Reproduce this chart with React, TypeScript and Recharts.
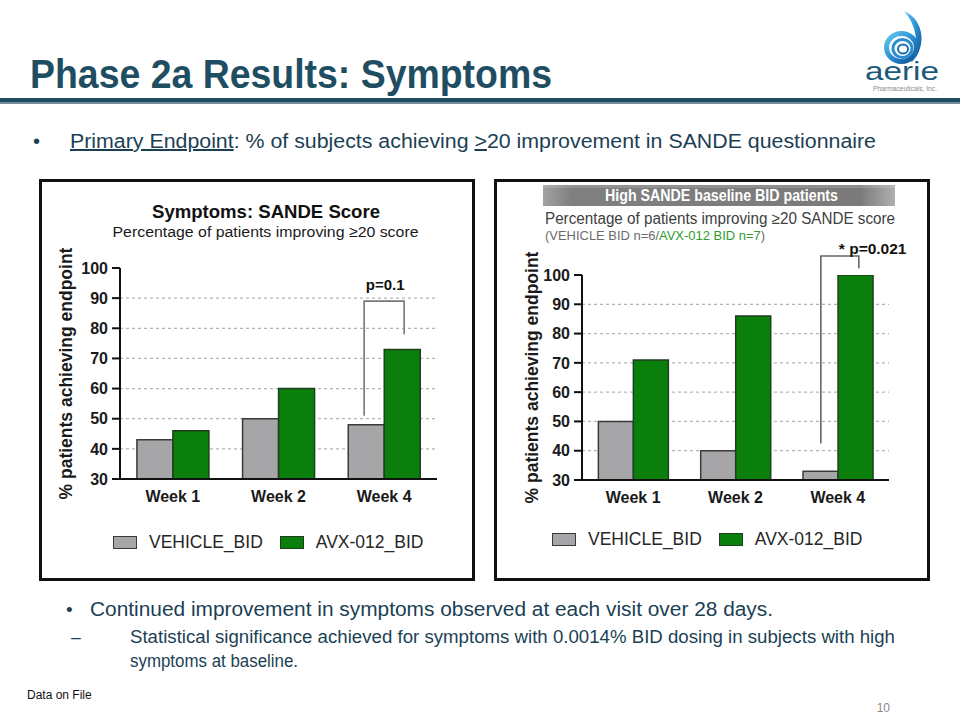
import React from 'react';
import { BarChart, Bar, XAxis, YAxis, ReferenceLine, Legend, CartesianGrid } from 'recharts';

const FONT = "'Liberation Sans', Arial, Helvetica, sans-serif";

// ---------- data ----------
const WEEKS = ['Week 1', 'Week 2', 'Week 4'];
const SERIES = ['VEHICLE_BID', 'AVX-012_BID'];
const ALL_VEHICLE = [43, 50, 48];
const ALL_AVX = [46, 60, 73];
const HIGH_VEHICLE = [50, 40, 33];
const HIGH_AVX = [71, 86, 100];
const Y_TICKS = [30, 40, 50, 60, 70, 80, 90, 100];
const GRID_LEVELS = [40, 50, 60, 70, 80, 90];
const Y_LABEL = '% patients achieving endpoint';
// significance brackets (in axis units)
const ALL_BRACKET = { cat: 'Week 4', from: 51, top: 89, to: 78, label: 'p=0.1' };
const HIGH_BRACKET = { cat: 'Week 4', from: 42.5, top: 106.5, to: 102.3, label: 'p=0.021' };

const FILLS = ['#a6a6a8', '#0b7f0b'];
const STROKES = ['#3a3a3a', '#1f3d1f'];

const buildRows = (veh: number[], avx: number[]) =>
  WEEKS.map((w, i) => ({ week: w, vehicle: veh[i], avx: avx[i] }));

const ALL_ROWS = buildRows(ALL_VEHICLE, ALL_AVX);
const HIGH_ROWS = buildRows(HIGH_VEHICLE, HIGH_AVX);

type Bracket = { cat: string; from: number; top: number; to: number; label: string };

const makeBracketShape = (b: Bracket, dxL: number, dxR: number, star: boolean) => (props: any) => {
  const { x1, y1, y2 } = props;
  if (x1 == null || y1 == null || y2 == null) return <g />;
  const yTo = y1 + ((b.to - b.from) / (b.top - b.from)) * (y2 - y1);
  const xl = x1 + dxL;
  const xr = x1 + dxR;
  return (
    <g>
      <path
        d={`M${xl},${y1} L${xl},${y2} L${xr},${y2} L${xr},${yTo}`}
        fill="none"
        stroke={star ? '#666' : '#777'}
        strokeWidth={1.6}
      />
      {star ? (
        <text x={x1 + 1} y={y2 - 2} fontFamily={FONT} fontWeight={700} fontSize={15.5} fill="#111">
          {'* ' + b.label}
        </text>
      ) : (
        <text x={x1 + 1} y={y2 - 11.5} textAnchor="middle" fontFamily={FONT} fontWeight={700} fontSize={15} fill="#111">
          {b.label}
        </text>
      )}
    </g>
  );
};

const LegendContent = (props: any) => {
  const payload = (props.payload || [])
    .slice()
    .sort((a: any, b: any) => SERIES.indexOf(a.value) - SERIES.indexOf(b.value));
  return (
    <div style={{ display: 'flex', alignItems: 'center', height: 20, fontFamily: FONT }}>
      {payload.map((entry: any, i: number) => {
        const idx = Math.max(0, SERIES.indexOf(entry.value));
        return (
          <div key={i} style={{ display: 'flex', alignItems: 'center', marginRight: 17 }}>
            <div
              style={{
                width: 24,
                height: 13,
                boxSizing: 'border-box',
                background: FILLS[idx],
                border: `1.5px solid ${STROKES[idx]}`,
                marginRight: 12,
              }}
            />
            <span style={{ fontSize: 17.5, color: '#262626', lineHeight: '20px' }}>{entry.value}</span>
          </div>
        );
      })}
    </div>
  );
};

const YLabel = (dx: number) => (props: any) => {
  const vb = props.viewBox || { x: 0, y: 0, width: 0, height: 0 };
  const cx = vb.x + dx;
  const cy = vb.y + vb.height / 2;
  return (
    <text
      x={cx}
      y={cy}
      transform={`rotate(-90 ${cx} ${cy})`}
      textAnchor="middle"
      dominantBaseline="central"
      fontFamily={FONT}
      fontWeight={700}
      fontSize={17.5}
      fill="#1a1a1a"
    >
      {Y_LABEL}
    </text>
  );
};

type ChartProps = {
  rows: any[];
  bracket: Bracket;
  left: number;
  top: number;
  margin: { top: number; right: number; bottom: number; left: number };
  yLabelDx: number;
  dxL: number;
  dxR: number;
  star: boolean;
  legendLeft: number;
  legendTop: number;
};

function SandeChart(p: ChartProps) {
  const W = 436;
  const H = 402;
  return (
    <div style={{ position: 'absolute', left: p.left, top: p.top, width: W, height: H }}>
      <BarChart width={W} height={H} data={p.rows} margin={p.margin} barCategoryGap="16%" barGap={0}>
        <CartesianGrid
          vertical={false}
          horizontalValues={GRID_LEVELS}
          stroke="#b5b5b5"
          strokeDasharray="3 3"
          strokeWidth={1.2}
        />
        <XAxis
          dataKey="week"
          interval={0}
          height={30}
          axisLine={{ stroke: '#111', strokeWidth: 2 }}
          tickLine={false}
          tickSize={0}
          tickMargin={12}
          tick={{ fill: '#1a1a1a', fontSize: 16, fontWeight: 700, fontFamily: FONT }}
        />
        <YAxis
          type="number"
          domain={[30, 100]}
          ticks={Y_TICKS}
          allowDataOverflow
          width={40}
          axisLine={{ stroke: '#111', strokeWidth: 2 }}
          tickLine={{ stroke: '#111', strokeWidth: 2 }}
          tickSize={8}
          tickMargin={4}
          tick={{ fill: '#1a1a1a', fontSize: 16, fontWeight: 700, fontFamily: FONT }}
          label={YLabel(p.yLabelDx)}
        />
        <Bar
          dataKey="vehicle"
          name={SERIES[0]}
          fill={FILLS[0]}
          stroke={STROKES[0]}
          strokeWidth={1.5}
          isAnimationActive={false}
        />
        <Bar
          dataKey="avx"
          name={SERIES[1]}
          fill={FILLS[1]}
          stroke={STROKES[1]}
          strokeWidth={1.5}
          isAnimationActive={false}
        />
        <ReferenceLine
          segment={[
            { x: p.bracket.cat, y: p.bracket.from },
            { x: p.bracket.cat, y: p.bracket.top },
          ]}
          ifOverflow="visible"
          shape={makeBracketShape(p.bracket, p.dxL, p.dxR, p.star)}
        />
        <Legend
          layout="horizontal"
          verticalAlign="middle"
          align="center"
          content={LegendContent}
          wrapperStyle={{ left: p.legendLeft, top: p.legendTop, width: 380, height: 20 }}
        />
      </BarChart>
    </div>
  );
}

const TEXT = '#1b3f55';

export default function App() {
  return (
    <div
      style={{
        position: 'absolute',
        left: 0,
        top: 0,
        width: 960,
        height: 720,
        background: '#ffffff',
        overflow: 'hidden',
        fontFamily: FONT,
      }}
    >
      <SandeChart
        rows={ALL_ROWS}
        bracket={ALL_BRACKET}
        left={39}
        top={179}
        margin={{ top: 89, right: 38, bottom: 72, left: 41 }}
        yLabelDx={-14}
        dxL={-20}
        dxR={20}
        star={false}
        legendLeft={74}
        legendTop={353}
      />
      <SandeChart
        rows={HIGH_ROWS}
        bracket={HIGH_BRACKET}
        left={494}
        top={179}
        margin={{ top: 96, right: 41, bottom: 71, left: 48 }}
        yLabelDx={-10}
        dxL={-17}
        dxR={21}
        star={true}
        legendLeft={58}
        legendTop={350}
      />
      <div
        style={{
          position: 'absolute',
          left: 39,
          top: 179,
          width: 436,
          height: 402,
          border: '3px solid #111',
          boxSizing: 'border-box',
          pointerEvents: 'none',
        }}
      />
      <div
        style={{
          position: 'absolute',
          left: 494,
          top: 179,
          width: 436,
          height: 402,
          border: '3px solid #111',
          boxSizing: 'border-box',
          pointerEvents: 'none',
        }}
      />
      <svg
        width={960}
        height={720}
        style={{ position: 'absolute', left: 0, top: 0, pointerEvents: 'none' }}
        fontFamily={FONT}
      >
        <defs>
          <linearGradient id="hdr" x1="0" y1="0" x2="1" y2="0">
            <stop offset="0" stopColor="#a2a2a2" />
            <stop offset="0.08" stopColor="#808080" />
            <stop offset="0.9" stopColor="#7a7a7a" />
            <stop offset="1" stopColor="#b0b0b0" />
          </linearGradient>
          <linearGradient id="swirl" x1="0" y1="0" x2="1" y2="1">
            <stop offset="0" stopColor="#64c8f0" />
            <stop offset="0.5" stopColor="#2a8ed0" />
            <stop offset="1" stopColor="#0b4f8f" />
          </linearGradient>
        </defs>

        {/* Title */}
        <text x={30} y={88} fontSize={40} fontWeight={700} fill="#1f4e63" textLength={522} lengthAdjust="spacingAndGlyphs">
          Phase 2a Results: Symptoms
        </text>
        <rect x={0} y={98} width={960} height={4} fill="#1d4c61" />
        <rect x={0} y={102} width={960} height={2} fill="#6f8c99" />

        {/* Logo */}
        <ellipse cx={901.5} cy={47.5} rx={15} ry={14} fill="none" stroke="url(#swirl)" strokeWidth={5} />
        <ellipse cx={902.5} cy={48.5} rx={9.5} ry={9} fill="none" stroke="#2a8fd0" strokeWidth={3} />
        <ellipse cx={903} cy={49} rx={5} ry={4.5} fill="none" stroke="#1d6fb0" strokeWidth={2} />
        <path d="M 904 11 C 925 20, 927 48, 911 63 C 919 47, 918 27, 904 11 Z" fill="url(#swirl)" />
        <text x={865} y={80} fontSize={26} fill="#1c5a7a" textLength={74} lengthAdjust="spacingAndGlyphs">
          aerie
        </text>
        <text x={873} y={91} fontSize={6.5} fill="#8a8a8a" textLength={64} lengthAdjust="spacingAndGlyphs">
          Pharmaceuticals, Inc.
        </text>

        {/* Primary endpoint bullet */}
        <text x={33} y={148} fontSize={20} fill={TEXT}>•</text>
        <text x={70} y={148} fontSize={20} fill={TEXT} textLength={806} lengthAdjust="spacingAndGlyphs">
          <tspan style={{ textDecoration: 'underline' }}>Primary Endpoint</tspan>
          <tspan>: % of subjects achieving </tspan>
          <tspan style={{ textDecoration: 'underline' }}>&gt;</tspan>
          <tspan>20 improvement in SANDE questionnaire</tspan>
        </text>

        {/* Left chart headings */}
        <text x={266} y={218} textAnchor="middle" fontSize={18} fontWeight={700} fill="#111" textLength={228} lengthAdjust="spacingAndGlyphs">
          Symptoms: SANDE Score
        </text>
        <text x={265.5} y={236.5} textAnchor="middle" fontSize={15.5} fill="#1a1a1a" textLength={306} lengthAdjust="spacingAndGlyphs">
          Percentage of patients improving ≥20 score
        </text>

        {/* Right chart headings */}
        <rect x={543} y={185} width={352} height={21} fill="url(#hdr)" />
        <rect x={543} y={185} width={352} height={3} fill="#ffffff" opacity={0.15} />
        <text x={721.5} y={201.3} textAnchor="middle" fontSize={16} fontWeight={700} fill="#ffffff" textLength={233} lengthAdjust="spacingAndGlyphs">
          High SANDE baseline BID patients
        </text>
        <text x={545} y={223.5} fontSize={16} fill="#404040" textLength={350} lengthAdjust="spacingAndGlyphs">
          Percentage of patients improving ≥20 SANDE score
        </text>
        <text x={545} y={240} fontSize={13} fill="#6a6a6a" textLength={220} lengthAdjust="spacingAndGlyphs">
          <tspan>(VEHICLE BID n=6/</tspan>
          <tspan fill="#2e9b2e">AVX-012 BID n=7</tspan>
          <tspan>)</tspan>
        </text>

        {/* Bottom bullets */}
        <text x={66} y={616} fontSize={19} fill={TEXT}>•</text>
        <text x={90} y={616} fontSize={19.5} fill={TEXT} textLength={683} lengthAdjust="spacingAndGlyphs">
          Continued improvement in symptoms observed at each visit over 28 days.
        </text>
        <text x={71} y={643} fontSize={17.5} fill={TEXT}>–</text>
        <text x={130} y={643} fontSize={17.5} fill={TEXT} textLength={765} lengthAdjust="spacingAndGlyphs">
          Statistical significance achieved for symptoms with 0.0014% BID dosing in subjects with high
        </text>
        <text x={130} y={667} fontSize={17.5} fill={TEXT} textLength={168} lengthAdjust="spacingAndGlyphs">
          symptoms at baseline.
        </text>

        {/* Footer */}
        <text x={27} y={699} fontSize={12} fill="#111">Data on File</text>
        <text x={890} y={712} textAnchor="end" fontSize={12} fill="#8a8a8a">10</text>
      </svg>
    </div>
  );
}
